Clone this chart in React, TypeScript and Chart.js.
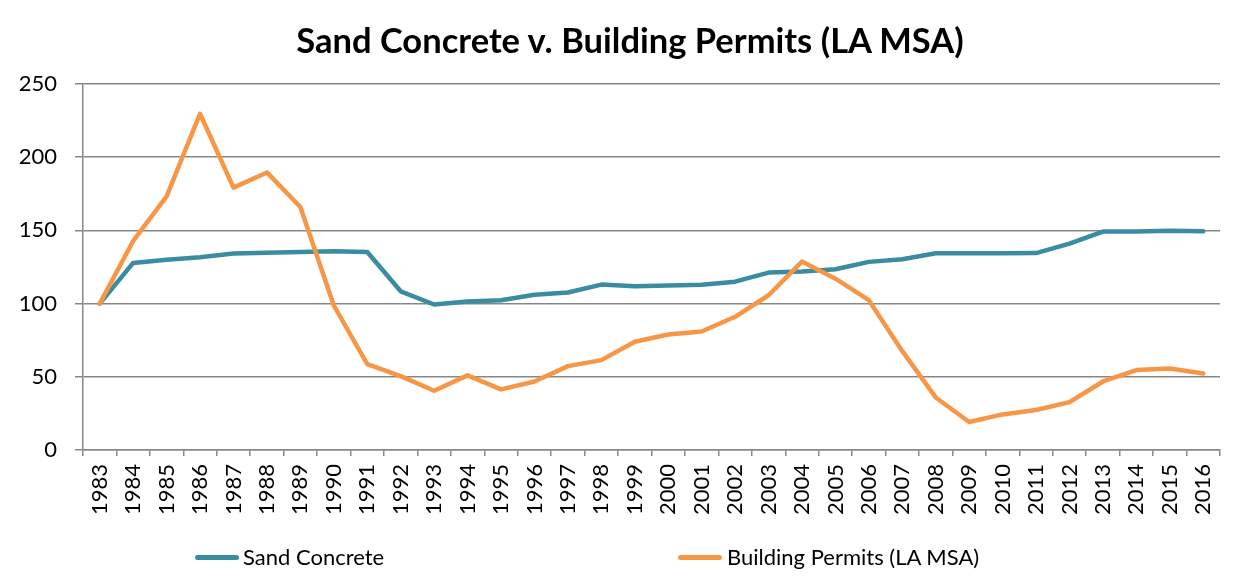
import React, { useEffect, useRef } from "react";
import { Chart, registerables } from "chart.js";

Chart.register(...registerables);

const chartTitle = "Sand Concrete v. Building Permits (LA MSA)";

const years: string[] = [
  "1983", "1984", "1985", "1986", "1987", "1988", "1989", "1990", "1991", "1992",
  "1993", "1994", "1995", "1996", "1997", "1998", "1999", "2000", "2001", "2002",
  "2003", "2004", "2005", "2006", "2007", "2008", "2009", "2010", "2011", "2012",
  "2013", "2014", "2015", "2016",
];

const sandConcrete: number[] = [
  100, 127.8, 130, 131.6, 134.2, 134.8, 135.3, 135.7, 135.3, 108.4,
  99.4, 101.4, 102.3, 106, 107.6, 113, 111.9, 112.3, 112.8, 115,
  121.2, 121.9, 123.5, 128.5, 130.3, 134.4, 134.4, 134.4, 134.5, 141,
  149.2, 149.2, 149.8, 149.4,
];

const buildingPermits: number[] = [
  100, 142.8, 173.3, 229.7, 179.2, 189.6, 166, 98.7, 58.7, 50.5,
  40.5, 51, 41.4, 46.8, 57.3, 61.4, 73.9, 78.9, 80.9, 91,
  105.7, 128.7, 117, 102.3, 67.5, 35.9, 19.1, 24.3, 27.3, 32.7,
  46.8, 54.6, 55.7, 52.3,
];

const yTicks: number[] = [0, 50, 100, 150, 200, 250];

const TEAL = "#3A8CA0";
const ORANGE = "#F79646";
const GRID = "#878787";
const FONT = "Lato";

export default function App() {
  const ref = useRef<HTMLCanvasElement | null>(null);

  useEffect(() => {
    if (!ref.current) return;
    const chart = new Chart(ref.current, {
      type: "line",
      data: {
        labels: years,
        datasets: [
          {
            label: "Sand Concrete",
            data: sandConcrete,
            borderColor: TEAL,
            backgroundColor: TEAL,
            borderWidth: 4.5,
            pointRadius: 0,
            tension: 0,
            order: 2,
            borderJoinStyle: "round",
            borderCapStyle: "round",
          },
          {
            label: "Building Permits (LA MSA)",
            data: buildingPermits,
            borderColor: ORANGE,
            backgroundColor: ORANGE,
            borderWidth: 4.5,
            pointRadius: 0,
            tension: 0,
            order: 1,
            borderJoinStyle: "round",
            borderCapStyle: "round",
          },
        ],
      },
      options: {
        animation: false,
        responsive: false,
        maintainAspectRatio: false,
        layout: { padding: { left: 0, right: 35, top: 84, bottom: 0 } },
        plugins: {
          legend: { display: false },
          tooltip: { enabled: false },
          title: { display: false },
        },
        scales: {
          x: {
            type: "category",
            offset: true,
            grid: {
              display: true,
              offset: true,
              drawOnChartArea: false,
              drawTicks: true,
              tickLength: 6,
              tickColor: GRID,
              lineWidth: 1.5,
            },
            border: { display: true, color: GRID, width: 1.5 },
            ticks: {
              autoSkip: false,
              minRotation: 90,
              maxRotation: 90,
              padding: 8,
              color: "#000",
              font: { family: FONT, size: 22 },
            },
            afterFit: (s: any) => {
              s.height = 129;
            },
          },
          y: {
            min: 0,
            max: 250,
            afterBuildTicks: (s: any) => {
              s.ticks = yTicks.map((v) => ({ value: v }));
            },
            grid: {
              display: true,
              color: GRID,
              lineWidth: 1.5,
              drawTicks: true,
              tickLength: 8,
              tickColor: GRID,
            },
            border: { display: true, color: GRID, width: 1.5 },
            ticks: {
              padding: 18,
              color: "#000",
              font: { family: FONT, size: 22 },
            },
            afterFit: (s: any) => {
              s.width = 83;
            },
          },
        },
      },
    });
    return () => chart.destroy();
  }, []);

  const legendText: React.CSSProperties = {
    position: "absolute",
    top: 543,
    fontFamily: FONT,
    fontSize: 22,
    lineHeight: "28px",
    color: "#000",
    whiteSpace: "nowrap",
  };
  const legendLine = (color: string, left: number): React.CSSProperties => ({
    position: "absolute",
    left,
    top: 555,
    width: 44,
    height: 5,
    borderRadius: 3,
    background: color,
  });

  return (
    <div style={{ position: "fixed", left: 0, top: 0, width: 1255, height: 579, background: "#fff" }}>
      <canvas ref={ref} width={1255} height={579} style={{ display: "block" }} />
      <div
        style={{
          position: "absolute",
          left: 0,
          width: 1260,
          top: 19,
          textAlign: "center",
          fontFamily: FONT,
          fontWeight: "bold",
          fontSize: 34.5,
          lineHeight: "41px",
          color: "#000",
          whiteSpace: "nowrap",
        }}
      >
        {chartTitle}
      </div>
      <div style={legendLine(TEAL, 195)} />
      <div style={{ ...legendText, left: 243 }}>Sand Concrete</div>
      <div style={legendLine(ORANGE, 678)} />
      <div style={{ ...legendText, left: 727 }}>Building Permits (LA MSA)</div>
    </div>
  );
}
